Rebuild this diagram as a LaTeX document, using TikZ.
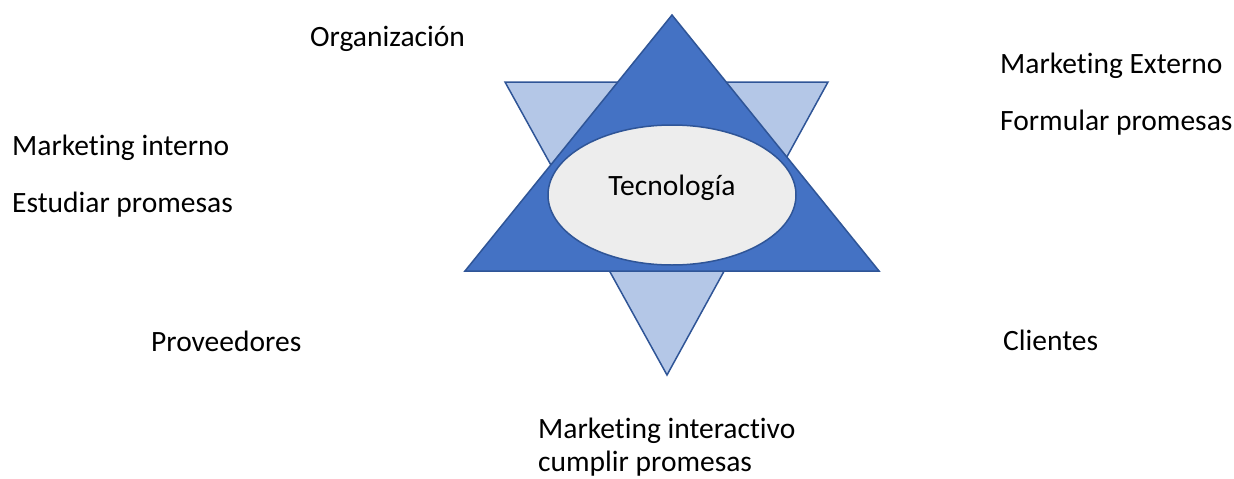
\documentclass[tikz,border=0pt]{standalone}
\usepackage{fontspec}
\setmainfont{Carlito}[Ligatures=NoCommon]
\usetikzlibrary{shapes.geometric}
\definecolor{azul}{HTML}{4472C4}
\definecolor{azulclaro}{HTML}{B4C7E7}
\definecolor{borde}{HTML}{2F5597}
\definecolor{gris}{HTML}{EDEDED}

\begin{document}
\begin{tikzpicture}[x=1pt,y=-1pt,
		etiqueta/.style={anchor=base west, inner sep=0pt, font=\fontsize{29.5}{34}\selectfont}]
		\useasboundingbox (0,0) rectangle (1234,479);
		% triangulo de abajo (claro) y de arriba (oscuro)
		\coordinate (a1) at (505,82);
		\coordinate (a2) at (828,82);
		\coordinate (a3) at (667,375);
		\coordinate (b1) at (672,15);
		\coordinate (b2) at (879,271);
		\coordinate (b3) at (465,271);
		\draw[fill=azulclaro, draw=borde, line width=1.5pt, line join=miter] (a1) -- (a2) -- (a3) -- cycle;
		\draw[fill=azul, draw=borde, line width=1.5pt, line join=miter] (b1) -- (b2) -- (b3) -- cycle;
		\node[ellipse, fill=gris, draw=borde, line width=1.5pt, minimum width=248pt, minimum height=140pt](tec) at (672,195) {};
		\node[font=\fontsize{29.5}{34}\selectfont](teclab) at (672,188) {Tecnología};
		% textos
		\node[etiqueta](org) at (310,46) {Organización};
		\node[etiqueta](mi) at (12,155) {Marketing interno};
		\node[etiqueta](ep) at (12,212) {Estudiar promesas};
		\node[etiqueta](me) at (1000,73) {Marketing Externo};
		\node[etiqueta](fp) at (1000,130) {Formular promesas};
		\node[etiqueta](prov) at (151,351) {Proveedores};
		\node[etiqueta](cli) at (1003,350) {Clientes};
		\node[etiqueta](mint) at (538,438) {Marketing interactivo};
		\node[etiqueta](cp) at (538,471) {cumplir promesas};
	\end{tikzpicture}
\end{document}
